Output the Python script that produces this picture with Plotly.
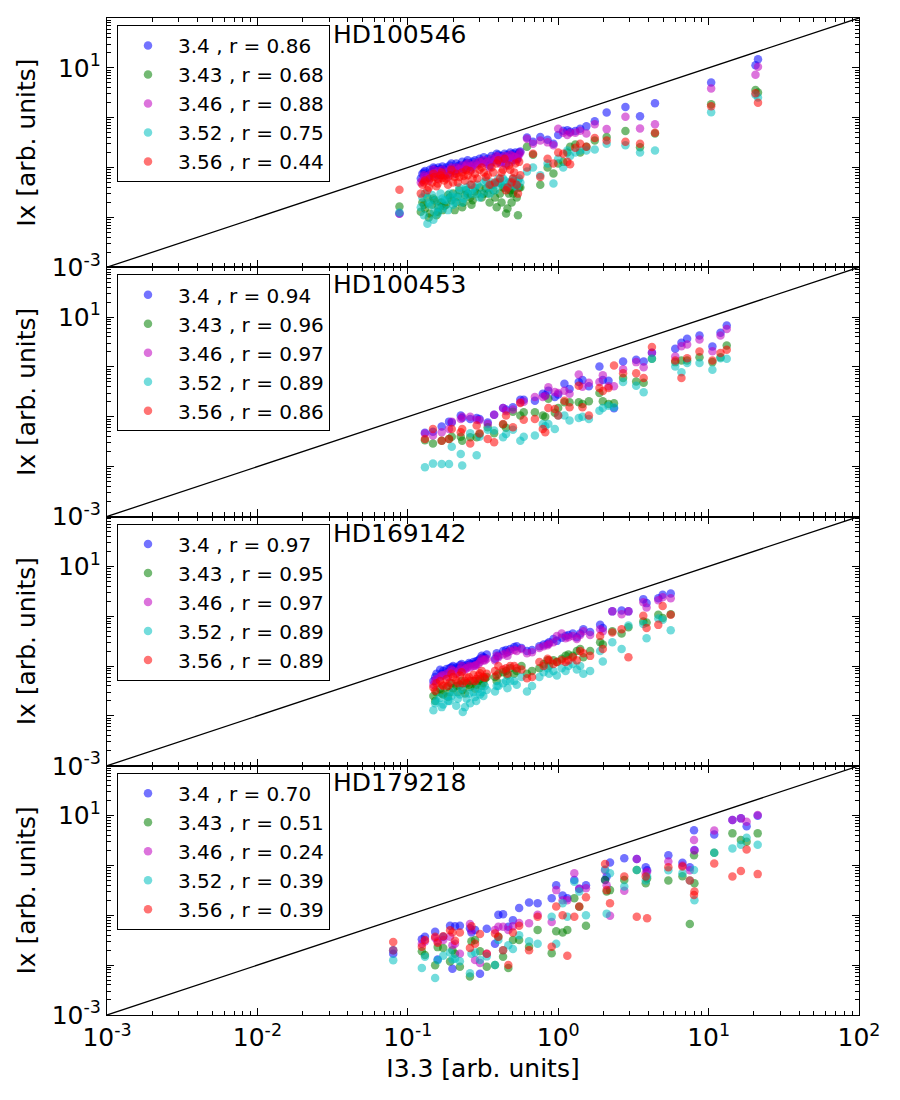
import plotly.graph_objects as go
from plotly.subplots import make_subplots

# ---------------- data ----------------
species = ["3.4", "3.43", "3.46", "3.52", "3.56"]
colors = ["#0000ff", "#008000", "#bf00bf", "#00bfbf", "#ff0000"]
targets = ["HD100546", "HD100453", "HD169142", "HD179218"]
r_hd100546 = ["0.86", "0.68", "0.88", "0.75", "0.44"]
r_hd100453 = ["0.94", "0.96", "0.97", "0.89", "0.86"]
r_hd169142 = ["0.97", "0.95", "0.97", "0.89", "0.89"]
r_hd179218 = ["0.70", "0.51", "0.24", "0.39", "0.39"]

# HD100546
i33_1 = [0.088,
         0.125, 0.13, 0.135, 0.14, 0.145, 0.15, 0.155, 0.16, 0.165, 0.17,
         0.18, 0.19, 0.2, 0.21, 0.22, 0.23, 0.24, 0.25, 0.26, 0.27, 0.28, 0.3, 0.32,
         0.34, 0.36, 0.38, 0.4, 0.42, 0.44, 0.46, 0.48, 0.5, 0.52, 0.54, 0.56,
         0.62, 0.68, 0.76, 0.85, 0.93, 1.0, 1.08, 1.15, 1.2, 1.3, 1.4, 1.54, 1.75,
         2.1, 2.8, 3.5, 4.4, 10.4, 20.5, 21.3,
         0.122, 0.128, 0.138, 0.148, 0.158, 0.168, 0.175, 0.185, 0.195, 0.205,
         0.215, 0.235, 0.245, 0.265, 0.29, 0.31, 0.33, 0.35, 0.37, 0.39,
         0.41, 0.43, 0.45, 0.47, 0.49, 0.51, 0.53, 0.55]
i340_1 = [0.012,
          0.075, 0.085, 0.07, 0.09, 0.082, 0.095, 0.088, 0.1, 0.092, 0.105,
          0.1, 0.11, 0.095, 0.12, 0.11, 0.13, 0.115, 0.14, 0.12, 0.13, 0.14, 0.15, 0.16,
          0.15, 0.17, 0.16, 0.18, 0.17, 0.19, 0.18, 0.2, 0.19, 0.2, 0.18, 0.21,
          0.4, 0.33, 0.41, 0.36, 0.3, 0.45, 0.55, 0.56, 0.52, 0.54, 0.6, 0.67, 0.85,
          1.27, 1.64, 1.07, 1.95, 5.1, 11.3, 14.9,
          0.06, 0.08, 0.065, 0.1, 0.07, 0.085, 0.09, 0.075, 0.12, 0.085,
          0.105, 0.095, 0.125, 0.1, 0.12, 0.135, 0.13, 0.11, 0.14, 0.19,
          0.13, 0.15, 0.12, 0.16, 0.14, 0.17, 0.15, 0.2]
i343_1 = [0.0166,
          0.02, 0.015, 0.025, 0.012, 0.018, 0.022, 0.011, 0.016, 0.02, 0.014,
          0.018, 0.025, 0.03, 0.02, 0.035, 0.016, 0.028, 0.03, 0.025, 0.022, 0.033, 0.04, 0.03,
          0.03, 0.045, 0.025, 0.05, 0.02, 0.04, 0.015, 0.035, 0.03, 0.045, 0.011, 0.04,
          0.26, 0.18, 0.045, 0.1, 0.076, 0.12, 0.13, 0.2, 0.26, 0.29, 0.2, 0.26, 0.35,
          0.41, 0.54, 0.255, 0.48, 1.86, 3.6, 3.2,
          0.013, 0.018, 0.01, 0.024, 0.013, 0.02, 0.017, 0.028, 0.022, 0.014,
          0.026, 0.02, 0.035, 0.018, 0.03, 0.025, 0.038, 0.02, 0.035, 0.016,
          0.03, 0.04, 0.012, 0.03, 0.02, 0.035, 0.025, 0.04]
i346_1 = [0.0118,
          0.055, 0.065, 0.06, 0.072, 0.07, 0.078, 0.075, 0.085, 0.08, 0.09,
          0.08, 0.09, 0.085, 0.1, 0.095, 0.11, 0.1, 0.12, 0.105, 0.11, 0.12, 0.13, 0.14,
          0.13, 0.15, 0.14, 0.16, 0.15, 0.17, 0.16, 0.18, 0.17, 0.16, 0.15, 0.2,
          0.38, 0.3, 0.35, 0.32, 0.28, 0.6, 0.5, 0.45, 0.5, 0.5, 0.55, 0.48, 0.74,
          0.59, 1.04, 0.61, 0.74, 3.85, 7.3, 10.5,
          0.05, 0.07, 0.055, 0.09, 0.06, 0.07, 0.07, 0.065, 0.1, 0.075,
          0.09, 0.09, 0.11, 0.09, 0.11, 0.12, 0.12, 0.1, 0.13, 0.17,
          0.12, 0.13, 0.11, 0.15, 0.13, 0.16, 0.14, 0.18]
i352_1 = [0.0125,
          0.025, 0.03, 0.0075, 0.018, 0.028, 0.013, 0.022, 0.016, 0.03, 0.024,
          0.022, 0.03, 0.018, 0.025, 0.04, 0.02, 0.035, 0.028, 0.045, 0.03, 0.04, 0.025, 0.05,
          0.04, 0.05, 0.035, 0.06, 0.045, 0.055, 0.04, 0.05, 0.06, 0.045, 0.055, 0.05,
          0.083, 0.1, 0.07, 0.12, 0.048, 0.15, 0.1, 0.22, 0.17, 0.2, 0.22, 0.22, 0.23,
          0.3, 0.28, 0.2, 0.22, 1.29, 2.9, 2.54,
          0.016, 0.011, 0.02, 0.009, 0.012, 0.015, 0.022, 0.014, 0.026, 0.02,
          0.03, 0.024, 0.04, 0.035, 0.045, 0.03, 0.055, 0.03, 0.045, 0.05,
          0.05, 0.06, 0.04, 0.05, 0.045, 0.055, 0.04, 0.06]
i356_1 = [0.036,
          0.045, 0.055, 0.035, 0.06, 0.05, 0.065, 0.042, 0.058, 0.07, 0.062,
          0.06, 0.07, 0.05, 0.075, 0.065, 0.08, 0.055, 0.07, 0.085, 0.06, 0.075, 0.09, 0.08,
          0.07, 0.1, 0.05, 0.14, 0.08, 0.15, 0.04, 0.09, 0.06, 0.12, 0.03, 0.07,
          0.1, 0.19, 0.065, 0.15, 0.12, 0.2, 0.19, 0.13, 0.116, 0.25, 0.3, 0.26, 0.39,
          0.35, 0.33, 0.3, 0.5, 1.7, 3.1, 2.0,
          0.03, 0.05, 0.04, 0.075, 0.048, 0.08, 0.055, 0.045, 0.09, 0.065,
          0.05, 0.068, 0.09, 0.045, 0.06, 0.1, 0.065, 0.045, 0.08, 0.12,
          0.06, 0.09, 0.035, 0.11, 0.05, 0.08, 0.045, 0.13]

# HD100453
i33_2 = [0.13, 0.147, 0.168, 0.188, 0.196, 0.225, 0.23, 0.26, 0.287, 0.3,
         0.34, 0.375, 0.43, 0.45, 0.5, 0.56, 0.59, 0.7, 0.79, 0.82,
         0.86, 0.95, 1.0, 1.1, 1.19, 1.37, 1.45, 1.6, 1.88, 1.98,
         2.16, 2.35, 2.7, 3.3, 3.7, 4.2, 6.0, 6.6, 7.2, 8.7, 10.6, 12.0, 13.2]
i340_2 = [0.048, 0.05, 0.064, 0.08, 0.077, 0.106, 0.095, 0.09, 0.095, 0.09,
          0.077, 0.11, 0.15, 0.14, 0.156, 0.22, 0.22, 0.21, 0.29, 0.27,
          0.335, 0.25, 0.28, 0.46, 0.36, 0.5, 0.55, 0.41, 1.02, 0.55,
          0.53, 0.148, 1.29, 1.39, 1.29, 1.92, 2.31, 3.05, 3.67, 4.28, 2.57, 4.84, 6.8]
i343_2 = [0.034, 0.029, 0.033, 0.036, 0.04, 0.04, 0.033, 0.039, 0.039, 0.045,
          0.062, 0.047, 0.07, 0.06, 0.127, 0.106, 0.123, 0.123, 0.106, 0.1,
          0.23, 0.12, 0.15, 0.195, 0.195, 0.195, 0.18, 0.205, 0.3, 0.205,
          0.18, 0.187, 0.6, 0.51, 0.48, 1.46, 1.25, 1.35, 1.35, 1.57, 1.25, 1.57, 2.69]
i346_2 = [0.046, 0.042, 0.049, 0.057, 0.08, 0.09, 0.1, 0.1, 0.087, 0.085,
          0.072, 0.11, 0.15, 0.13, 0.14, 0.195, 0.2, 0.25, 0.25, 0.26,
          0.39, 0.315, 0.3, 0.335, 0.29, 0.705, 0.4, 0.48, 0.5, 0.68,
          0.41, 0.41, 0.9, 1.25, 0.99, 1.92, 1.62, 2.6, 2.82, 3.55, 2.07, 4.28, 5.8]
i352_2 = [0.0097, 0.0115, 0.0113, 0.0113, 0.025, 0.018, 0.0106, 0.047, 0.017, 0.04,
          0.055, 0.053, 0.039, 0.045, 0.055, 0.033, 0.04, 0.042, 0.072, 0.065,
          0.072, 0.057, 0.106, 0.106, 0.084, 0.095, 0.1, 0.09, 0.133, 0.15,
          0.167, 0.156, 0.5, 0.42, 0.31, 1.46, 1.02, 0.785, 1.2, 1.2, 0.88, 1.5, 1.46]
i356_2 = [0.036, 0.057, 0.033, 0.036, 0.057, 0.049, 0.057, 0.029, 0.067, 0.047,
          0.036, 0.031, 0.072, 0.106, 0.062, 0.19, 0.087, 0.09, 0.057, 0.049,
          0.15, 0.144, 0.106, 0.21, 0.156, 0.42, 0.156, 0.106, 0.38, 0.33,
          0.38, 1.07, 0.75, 0.75, 0.6, 2.5, 1.35, 0.6, 1.5, 2.04, 1.35, 1.9, 2.21]

# HD169142
i33_3 = [0.148, 0.155, 0.164, 0.172, 0.181, 0.19, 0.2, 0.21, 0.222, 0.232,
         0.246, 0.26, 0.273, 0.285, 0.302, 0.318, 0.335, 0.38, 0.4, 0.43,
         0.46, 0.48, 0.53, 0.57, 0.62, 0.67, 0.75, 0.8, 0.87, 0.93,
         0.98, 1.055, 1.12, 1.17, 1.33, 1.4, 1.47, 1.63, 1.9, 1.98,
         2.29, 2.64, 2.93, 3.68, 3.87, 4.63, 4.95, 5.6,
         0.152, 0.168, 0.185, 0.195, 0.215, 0.228, 0.24, 0.255, 0.28, 0.295,
         0.31, 0.325, 0.39, 0.45, 0.51, 0.85, 1.25]
i340_3 = [0.05, 0.07, 0.084, 0.08, 0.087, 0.09, 0.1, 0.095, 0.104, 0.1,
          0.104, 0.11, 0.12, 0.125, 0.14, 0.15, 0.17, 0.14, 0.16, 0.2,
          0.19, 0.22, 0.25, 0.23, 0.2, 0.21, 0.25, 0.27, 0.3, 0.35,
          0.32, 0.37, 0.4, 0.42, 0.38, 0.45, 0.55, 0.48, 0.67, 0.58,
          1.25, 1.3, 1.25, 2.2, 1.83, 2.3, 2.7, 2.85,
          0.06, 0.07, 0.075, 0.095, 0.09, 0.11, 0.095, 0.115, 0.11, 0.13,
          0.16, 0.145, 0.18, 0.21, 0.24, 0.28, 0.45]
i343_3 = [0.025, 0.03, 0.035, 0.027, 0.038, 0.03, 0.036, 0.04, 0.042, 0.033,
          0.045, 0.038, 0.05, 0.042, 0.055, 0.045, 0.06, 0.06, 0.07, 0.075,
          0.065, 0.09, 0.08, 0.1, 0.07, 0.08, 0.09, 0.11, 0.1, 0.13,
          0.12, 0.14, 0.16, 0.17, 0.2, 0.22, 0.15, 0.2, 0.3, 0.27,
          0.5, 0.45, 0.6, 0.785, 0.75, 1.07, 0.92, 1.1,
          0.02, 0.028, 0.024, 0.045, 0.03, 0.05, 0.028, 0.042, 0.035, 0.05,
          0.04, 0.055, 0.05, 0.08, 0.07, 0.13, 0.16]
i346_3 = [0.042, 0.055, 0.06, 0.065, 0.07, 0.075, 0.08, 0.07, 0.085, 0.08,
          0.09, 0.095, 0.1, 0.105, 0.12, 0.13, 0.14, 0.13, 0.15, 0.17,
          0.16, 0.2, 0.2, 0.22, 0.18, 0.19, 0.23, 0.25, 0.28, 0.3,
          0.4, 0.45, 0.36, 0.38, 0.35, 0.42, 0.5, 0.42, 0.55, 0.5,
          1.25, 1.1, 1.25, 1.9, 1.5, 2.1, 2.4, 2.3,
          0.05, 0.065, 0.06, 0.085, 0.075, 0.1, 0.085, 0.1, 0.1, 0.11,
          0.14, 0.13, 0.16, 0.18, 0.21, 0.26, 0.4]
i352_3 = [0.013, 0.02, 0.023, 0.017, 0.025, 0.02, 0.03, 0.016, 0.027, 0.012,
          0.022, 0.018, 0.03, 0.02, 0.027, 0.025, 0.033, 0.031, 0.04, 0.045,
          0.036, 0.05, 0.042, 0.06, 0.031, 0.04, 0.06, 0.075, 0.07, 0.08,
          0.065, 0.09, 0.08, 0.1, 0.085, 0.1, 0.07, 0.08, 0.2, 0.124,
          0.3, 0.22, 0.65, 0.7, 0.36, 0.9, 0.85, 0.52,
          0.018, 0.015, 0.02, 0.025, 0.022, 0.035, 0.015, 0.028, 0.024, 0.035,
          0.03, 0.04, 0.04, 0.05, 0.05, 0.09, 0.11]
i356_3 = [0.037, 0.045, 0.05, 0.04, 0.055, 0.047, 0.06, 0.052, 0.065, 0.045,
          0.058, 0.05, 0.067, 0.055, 0.072, 0.06, 0.07, 0.08, 0.1, 0.085,
          0.07, 0.1, 0.09, 0.085, 0.057, 0.06, 0.12, 0.1, 0.13, 0.11,
          0.12, 0.13, 0.12, 0.13, 0.13, 0.2, 0.18, 0.16, 0.4, 0.22,
          0.47, 0.55, 0.15, 1.02, 0.58, 0.67, 1.6, 1.07,
          0.032, 0.042, 0.04, 0.07, 0.045, 0.075, 0.05, 0.06, 0.05, 0.065,
          0.08, 0.058, 0.065, 0.09, 0.1, 0.14, 0.15]

# HD179218
i33_4 = [0.08, 0.124, 0.13, 0.152, 0.158, 0.172, 0.191, 0.198, 0.206, 0.222,
         0.259, 0.265, 0.28, 0.302, 0.335, 0.38, 0.4, 0.43, 0.466, 0.5,
         0.55, 0.64, 0.73, 0.905, 0.97, 1.07, 1.15, 1.28, 1.38, 1.53,
         2.05, 2.1, 2.21, 2.75, 3.33, 3.82, 3.9, 5.4, 6.7, 7.5,
         8.0, 8.05, 10.9, 14.4, 16.4, 17.9, 21.2]
i340_4 = [0.017, 0.033, 0.037, 0.047, 0.013, 0.037, 0.062, 0.0085, 0.06, 0.062,
          0.055, 0.045, 0.051, 0.0067, 0.054, 0.027, 0.102, 0.105, 0.059, 0.08,
          0.14, 0.18, 0.174, 0.22, 0.4, 0.25, 0.22, 0.51, 0.34, 0.4,
          0.51, 0.6, 1.15, 1.39, 1.35, 0.92, 0.8, 1.6, 1.13, 0.92,
          5.1, 2.04, 4.2, 8.2, 8.8, 6.1, 9.9]
i343_4 = [0.02, 0.019, 0.016, 0.01, 0.023, 0.022, 0.0118, 0.02, 0.017, 0.0093,
          0.0059, 0.03, 0.032, 0.019, 0.0093, 0.0101, 0.037, 0.0148, 0.0088, 0.032,
          0.032, 0.0235, 0.051, 0.0173, 0.048, 0.045, 0.051, 0.22, 0.149, 0.062,
          0.51, 0.3, 0.32, 0.51, 0.81, 0.44, 0.55, 0.5, 0.61, 0.067,
          1.6, 0.44, 1.8, 4.4, 3.24, 3.0, 4.4]
i346_4 = [0.02, 0.027, 0.03, 0.035, 0.03, 0.032, 0.037, 0.025, 0.027, 0.017,
          0.067, 0.05, 0.0127, 0.011, 0.017, 0.051, 0.059, 0.059, 0.051, 0.06,
          0.07, 0.069, 0.102, 0.073, 0.32, 0.2, 0.2, 0.695, 0.34, 0.35,
          0.8, 0.4, 0.098, 0.31, 1.35, 0.7, 0.75, 1.2, 1.0, 0.8,
          3.24, 2.0, 5.0, 8.2, 8.8, 7.5, 10.3]
i352_4 = [0.0125, 0.0088, 0.0148, 0.0055, 0.0125, 0.0155, 0.018, 0.013, 0.0135, 0.012,
          0.0069, 0.017, 0.018, 0.0127, 0.015, 0.0101, 0.032, 0.02, 0.025, 0.021,
          0.04, 0.03, 0.027, 0.094, 0.027, 0.174, 0.094, 0.47, 0.3, 0.1,
          0.83, 0.108, 0.7, 0.38, 0.81, 0.5, 0.6, 0.8, 0.7, 0.5,
          0.81, 0.2, 1.8, 2.2, 2.6, 3.6, 2.6]
i356_4 = [0.029, 0.0235, 0.032, 0.037, 0.028, 0.038, 0.05, 0.045, 0.031, 0.045,
          0.022, 0.06, 0.027, 0.042, 0.017, 0.043, 0.037, 0.02, 0.0101, 0.045,
          0.062, 0.02, 0.094, 0.0235, 0.15, 0.1, 0.0155, 0.094, 0.15, 0.23,
          1.07, 0.32, 0.174, 0.6, 0.094, 0.6, 0.087, 0.92, 0.95, 0.5,
          0.255, 0.3, 1.1, 0.6, 0.77, 2.1, 0.67]

panels = [
    (targets[0], r_hd100546, i33_1, [i340_1, i343_1, i346_1, i352_1, i356_1]),
    (targets[1], r_hd100453, i33_2, [i340_2, i343_2, i346_2, i352_2, i356_2]),
    (targets[2], r_hd169142, i33_3, [i340_3, i343_3, i346_3, i352_3, i356_3]),
    (targets[3], r_hd179218, i33_4, [i340_4, i343_4, i346_4, i352_4, i356_4]),
]

# one-to-one reference line spans the full axis range
one_to_one = [1e-3, 1e2]

# ---------------- figure ----------------
FONT = "DejaVu Sans"
fig = make_subplots(rows=4, cols=1, shared_xaxes=True, vertical_spacing=0)

legend_names = ["legend", "legend2", "legend3", "legend4"]
for k, (name, rvals, xs, ys_list) in enumerate(panels):
    row = k + 1
    fig.add_trace(go.Scatter(x=one_to_one, y=one_to_one, mode="lines",
                             line=dict(color="black", width=1.3),
                             showlegend=False, hoverinfo="skip"),
                  row=row, col=1)
    for s, (sp, col, ys, rv) in enumerate(zip(species, colors, ys_list, rvals)):
        fig.add_trace(go.Scatter(
            x=xs, y=ys, mode="markers",
            name=f"{sp} , r = {rv}",
            marker=dict(color=col, size=8.5, opacity=0.55,
                        line=dict(width=0)),
            legend=legend_names[k], showlegend=True),
            row=row, col=1)

plot_h = 1100 - 18 - 85
decades = [1e-3, 1e-2, 1e-1, 1e0, 1e1, 1e2]
minor_vals = [m * d for d in decades[:-1] for m in range(2, 10)]
xlabels = ["10<sup>-3</sup>", "10<sup>-2</sup>", "10<sup>-1</sup>",
           "10<sup>0</sup>", "10<sup>1</sup>", "10<sup>2</sup>"]
ylabels = ["10<sup>-3</sup>", "", "", "", "10<sup>1</sup>", ""]

axis_common = dict(
    type="log", range=[-3, 2], showgrid=False, zeroline=False,
    showline=True, linecolor="black", linewidth=1.2, mirror="ticks",
    ticks="inside", ticklen=7, tickwidth=1, tickcolor="black",
    tickmode="array", tickvals=decades,
    minor=dict(tickmode="array", tickvals=minor_vals, ticks="inside",
               ticklen=4, tickwidth=1, tickcolor="black", showgrid=False),
    tickfont=dict(family=FONT, size=25, color="black"),
)

for k in range(4):
    xa = "xaxis" if k == 0 else f"xaxis{k+1}"
    ya = "yaxis" if k == 0 else f"yaxis{k+1}"
    fig.update_layout({
        xa: dict(axis_common, ticktext=xlabels, showticklabels=(k == 3)),
        ya: dict(axis_common, ticktext=ylabels,
                 title=dict(text="Ix [arb. units]", standoff=8,
                            font=dict(family=FONT, size=25, color="black"))),
    })
fig.update_layout(xaxis4=dict(title=dict(text="I3.3 [arb. units]", standoff=8,
                                         font=dict(family=FONT, size=25, color="black"))))

for k, name in enumerate(targets):
    top = 1 - k * 0.25
    fig.add_annotation(text=name, xref="paper", yref="paper",
                       x=0.298, y=top - 17 / plot_h, xanchor="left", yanchor="middle",
                       showarrow=False,
                       font=dict(family=FONT, size=25, color="black"))
    fig.update_layout({legend_names[k]: dict(
        x=0.0133, y=top - 7 / plot_h, xanchor="left", yanchor="top",
        bgcolor="white", bordercolor="black", borderwidth=1,
        font=dict(family=FONT, size=20, color="black"),
        itemwidth=50, tracegroupgap=0,
    )})

fig.update_layout(
    width=900, height=1100,
    margin=dict(l=107, r=41, t=18, b=85),
    plot_bgcolor="white", paper_bgcolor="white",
    font=dict(family=FONT, color="black"),
)

fig.write_html("out.html")
